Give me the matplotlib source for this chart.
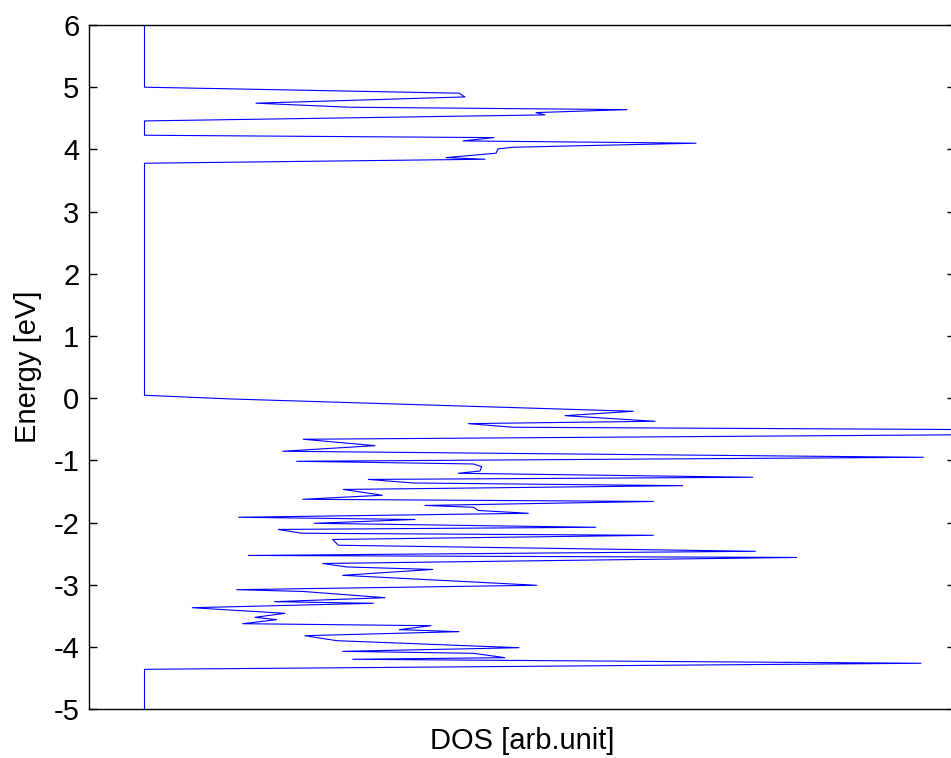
import matplotlib
matplotlib.use("Agg")
import matplotlib.pyplot as plt

# DOS curve (energy in eV, DOS in arbitrary units)
energy = [6.0, 5.0, 4.904, 4.844, 4.743, 4.678, 4.640, 4.592, 4.555, 4.458,
          4.228, 4.190, 4.137, 4.100, 4.035, 4.008, 3.939, 3.868, 3.842, 3.778,
          0.048, -0.011, -0.209, -0.280, -0.370, -0.408, -0.466, -0.539, -0.659, -0.762,
          -0.852, -0.949, -1.013, -1.056, -1.100, -1.169, -1.206, -1.270, -1.305, -1.362,
          -1.405, -1.466, -1.559, -1.624, -1.659, -1.723, -1.752, -1.804, -1.849, -1.913,
          -1.949, -2.010, -2.074, -2.109, -2.170, -2.203, -2.270, -2.363, -2.460, -2.527,
          -2.559, -2.656, -2.712, -2.752, -2.846, -3.006, -3.077, -3.106, -3.206, -3.270,
          -3.296, -3.367, -3.457, -3.521, -3.559, -3.624, -3.656, -3.720, -3.752, -3.817,
          -3.897, -4.010, -4.068, -4.100, -4.170, -4.196, -4.260, -4.357, -5.0]
dos = [0.0, 0.0, 3.145, 3.205, 1.115, 2.055, 4.825, 3.915, 4.005, 0.0,
       0.0, 3.495, 3.185, 5.515, 3.685, 3.535, 3.515, 3.015, 3.405, 0.0,
       0.0, 0.855, 4.888, 4.205, 5.105, 3.238, 3.685, 12.555, 1.588, 2.305,
       1.382, 7.788, 1.522, 3.288, 3.372, 3.355, 3.138, 6.082, 2.238, 2.688,
       5.382, 1.988, 2.378, 1.582, 5.088, 2.805, 3.288, 3.338, 3.838, 0.942,
       2.705, 1.698, 4.512, 1.338, 1.572, 5.088, 1.882, 1.938, 6.108, 1.038,
       6.522, 1.782, 2.022, 2.882, 1.982, 3.922, 0.922, 1.588, 2.405, 1.298,
       2.288, 0.478, 1.405, 1.105, 1.322, 0.982, 2.865, 2.548, 3.145, 1.605,
       1.922, 3.745, 1.982, 3.288, 3.605, 2.082, 7.765, 0.0, 0.0]

yticks = [-5, -4, -3, -2, -1, 0, 1, 2, 3, 4, 5, 6]

plt.rcParams['font.family'] = ['Liberation Sans', 'DejaVu Sans']
plt.rcParams['axes.unicode_minus'] = False

fig = plt.figure(figsize=(9.51, 7.58), dpi=100)
# right side of the box falls just outside the picture, as in the reference
ax = fig.add_axes([89/951, 48.7/758, 866/951, 684.3/758])

ax.plot(dos, energy, color='blue', linewidth=0.8)

ax.set_xlim(-0.555, 8.105)
ax.set_ylim(-5, 6)
ax.set_xticks([])
ax.set_yticks(yticks)
ax.set_yticklabels([str(t) for t in yticks])
ax.tick_params(axis='y', direction='in', length=6, width=1.0, left=True, right=True,
               labelsize=21, pad=7)
for s in ax.spines.values():
    s.set_linewidth(1.0)

ax.set_ylabel('Energy [eV]', fontsize=21, labelpad=8)
ax.set_xlabel('DOS [arb.unit]', fontsize=21, labelpad=13)

fig.savefig('out.png', dpi=100)
